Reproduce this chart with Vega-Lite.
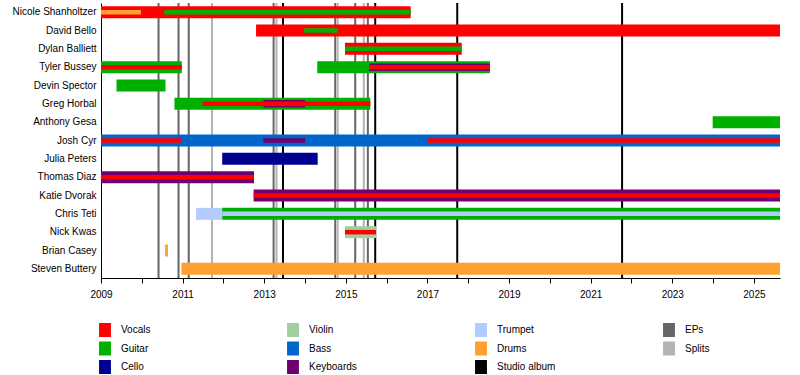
{
  "$schema": "https://vega.github.io/schema/vega-lite/v6.json",
  "width": 679,
  "height": 275,
  "autosize": {"type": "none"},
  "padding": {"left": 101, "top": 3, "right": 20, "bottom": 97},
  "background": "white",
  "config": {
    "view": {"stroke": null},
    "font": "Liberation Sans",
    "axis": {"labelFont": "Liberation Sans", "labelFontSize": 10, "labelColor": "black", "domainColor": "black", "tickColor": "black", "grid": false, "title": null}
  },
  "datasets": {
    "bars": [
      {"member": "Nicole Shanholtzer", "start": 2009, "end": 2016.59, "role": "Vocals", "tier": "main"},
      {"member": "David Bello", "start": 2012.8, "end": 2025.64, "role": "Vocals", "tier": "main"},
      {"member": "Dylan Balliett", "start": 2014.98, "end": 2017.84, "role": "Vocals", "tier": "main"},
      {"member": "Tyler Bussey", "start": 2009, "end": 2010.98, "role": "Guitar", "tier": "main"},
      {"member": "Tyler Bussey", "start": 2014.3, "end": 2018.53, "role": "Guitar", "tier": "main"},
      {"member": "Devin Spector", "start": 2009.38, "end": 2010.58, "role": "Guitar", "tier": "main"},
      {"member": "Greg Horbal", "start": 2010.8, "end": 2015.6, "role": "Guitar", "tier": "main"},
      {"member": "Anthony Gesa", "start": 2023.99, "end": 2025.64, "role": "Guitar", "tier": "main"},
      {"member": "Josh Cyr", "start": 2009, "end": 2025.64, "role": "Bass", "tier": "main"},
      {"member": "Julia Peters", "start": 2011.97, "end": 2014.31, "role": "Cello", "tier": "main"},
      {"member": "Thomas Diaz", "start": 2009, "end": 2012.75, "role": "Keyboards", "tier": "main"},
      {"member": "Katie Dvorak", "start": 2012.74, "end": 2025.64, "role": "Keyboards", "tier": "main"},
      {"member": "Chris Teti", "start": 2011.33, "end": 2011.97, "role": "Trumpet", "tier": "main"},
      {"member": "Chris Teti", "start": 2011.97, "end": 2025.64, "role": "Guitar", "tier": "main"},
      {"member": "Nick Kwas", "start": 2014.98, "end": 2015.74, "role": "Violin", "tier": "main"},
      {"member": "Brian Casey", "start": 2010.57, "end": 2010.64, "role": "Drums", "tier": "main"},
      {"member": "Steven Buttery", "start": 2010.97, "end": 2025.64, "role": "Drums", "tier": "main"},
      {"member": "Tyler Bussey", "start": 2015.57, "end": 2018.53, "role": "Keyboards", "tier": "mid"},
      {"member": "Greg Horbal", "start": 2012.98, "end": 2014.0, "role": "Keyboards", "tier": "mid"},
      {"member": "Nicole Shanholtzer", "start": 2009, "end": 2009.98, "role": "Drums", "tier": "inner"},
      {"member": "Nicole Shanholtzer", "start": 2010.55, "end": 2016.59, "role": "Guitar", "tier": "inner"},
      {"member": "David Bello", "start": 2013.98, "end": 2014.8, "role": "Guitar", "tier": "inner"},
      {"member": "Dylan Balliett", "start": 2014.98, "end": 2017.84, "role": "Guitar", "tier": "inner"},
      {"member": "Tyler Bussey", "start": 2009, "end": 2010.98, "role": "Vocals", "tier": "inner"},
      {"member": "Tyler Bussey", "start": 2015.57, "end": 2018.53, "role": "Vocals", "tier": "inner"},
      {"member": "Greg Horbal", "start": 2011.49, "end": 2015.6, "role": "Vocals", "tier": "inner"},
      {"member": "Josh Cyr", "start": 2009, "end": 2010.98, "role": "Vocals", "tier": "inner"},
      {"member": "Josh Cyr", "start": 2012.98, "end": 2014.0, "role": "Keyboards", "tier": "inner"},
      {"member": "Josh Cyr", "start": 2017.0, "end": 2025.64, "role": "Vocals", "tier": "inner"},
      {"member": "Thomas Diaz", "start": 2009, "end": 2012.75, "role": "Vocals", "tier": "inner"},
      {"member": "Katie Dvorak", "start": 2012.74, "end": 2025.64, "role": "Vocals", "tier": "inner"},
      {"member": "Chris Teti", "start": 2011.97, "end": 2025.64, "role": "Trumpet", "tier": "inner"},
      {"member": "Nick Kwas", "start": 2014.98, "end": 2015.74, "role": "Vocals", "tier": "inner"}
    ],
    "releases": [
      {"date": 2010.41, "type": "EPs"},
      {"date": 2010.9, "type": "EPs"},
      {"date": 2011.15, "type": "EPs"},
      {"date": 2011.72, "type": "Splits"},
      {"date": 2013.23, "type": "EPs"},
      {"date": 2013.3, "type": "Splits"},
      {"date": 2013.46, "type": "Studio album"},
      {"date": 2014.74, "type": "EPs"},
      {"date": 2014.8, "type": "Splits"},
      {"date": 2015.23, "type": "EPs"},
      {"date": 2015.44, "type": "Splits"},
      {"date": 2015.54, "type": "EPs"},
      {"date": 2015.72, "type": "Studio album"},
      {"date": 2017.73, "type": "Studio album"},
      {"date": 2021.77, "type": "Studio album"}
    ]
  },
  "layer": [
    {
      "data": {"name": "releases"},
      "mark": {"type": "rule", "strokeWidth": 2},
      "encoding": {
        "x": {"field": "date", "type": "quantitative"},
        "color": {"field": "type", "type": "nominal"}
      }
    },
    {
      "data": {"name": "bars"},
      "transform": [{"filter": "datum.tier === 'main'"}],
      "mark": {"type": "bar", "size": 12},
      "encoding": {
        "y": {"field": "member", "type": "nominal"},
        "x": {"field": "start", "type": "quantitative"},
        "x2": {"field": "end"},
        "color": {"field": "role", "type": "nominal"}
      }
    },
    {
      "data": {"name": "bars"},
      "transform": [{"filter": "datum.tier === 'mid'"}],
      "mark": {"type": "bar", "size": 7.5},
      "encoding": {
        "y": {"field": "member", "type": "nominal"},
        "x": {"field": "start", "type": "quantitative"},
        "x2": {"field": "end"},
        "color": {"field": "role", "type": "nominal"}
      }
    },
    {
      "data": {"name": "bars"},
      "transform": [{"filter": "datum.tier === 'inner'"}],
      "mark": {"type": "bar", "size": 4.5},
      "encoding": {
        "y": {
          "field": "member",
          "type": "nominal",
          "scale": {
            "domain": ["Nicole Shanholtzer", "David Bello", "Dylan Balliett", "Tyler Bussey", "Devin Spector", "Greg Horbal", "Anthony Gesa", "Josh Cyr", "Julia Peters", "Thomas Diaz", "Katie Dvorak", "Chris Teti", "Nick Kwas", "Brian Casey", "Steven Buttery"],
            "paddingInner": 0,
            "paddingOuter": 0
          },
          "axis": {"ticks": false, "labelPadding": 5}
        },
        "x": {"field": "start", "type": "quantitative"},
        "x2": {"field": "end"},
        "color": {"field": "role", "type": "nominal"}
      }
    }
  ],
  "encoding": {
    "x": {
      "field": "start",
      "type": "quantitative",
      "scale": {"domain": [2009, 2025.64], "nice": false, "zero": false},
      "axis": {
        "values": [2009, 2010, 2011, 2012, 2013, 2014, 2015, 2016, 2017, 2018, 2019, 2020, 2021, 2022, 2023, 2024, 2025],
        "labelExpr": "datum.value % 2 === 1 ? datum.value : ''",
        "format": "d",
        "tickSize": 5,
        "labelPadding": 6,
        "labelFlush": false,
        "labelOverlap": false
      }
    },
    "color": {
      "field": "role",
      "type": "nominal",
      "scale": {
        "domain": ["Vocals", "Guitar", "Cello", "Violin", "Bass", "Keyboards", "Trumpet", "Drums", "Studio album", "EPs", "Splits"],
        "range": ["#ff0000", "#00b000", "#000090", "#a0d0a0", "#0066cc", "#700070", "#b3ccff", "#ffa030", "#000000", "#666666", "#b3b3b3"]
      },
      "legend": {
        "title": null,
        "orient": "none",
        "legendX": -3,
        "legendY": 320,
        "columns": 4,
        "gridAlign": "all",
        "columnPadding": 106,
        "rowPadding": 4.5,
        "padding": 0,
        "symbolType": "M-0.85,-1H0.85V1H-0.85Z",
        "symbolSize": 196,
        "symbolStrokeWidth": 0,
        "symbolOpacity": 1,
        "labelFont": "Liberation Sans",
        "labelFontSize": 10,
        "labelColor": "black",
        "labelOffset": 9
      }
    }
  }
}
